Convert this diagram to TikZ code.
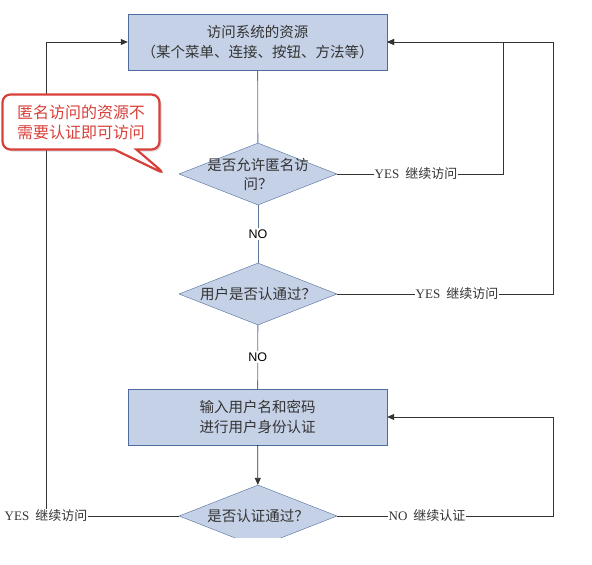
\documentclass[tikz,border=0pt]{standalone}
\usepackage{fontspec}
\setmainfont{Liberation Serif}
\newfontfamily\cjk{Noto Sans CJK SC}
\newfontfamily\latinsans{Liberation Sans}
\usetikzlibrary{shapes.geometric,shapes.callouts,shadows,arrows.meta}
\definecolor{boxfill}{HTML}{C5D1E6}
\definecolor{boxline}{HTML}{4E6D9C}
\definecolor{flowline}{HTML}{5F7596}
\definecolor{notered}{HTML}{D8403A}
\definecolor{ink}{HTML}{333333}
% branch text: latin word + chinese words
\newcommand{\goon}[2]{#1\hspace{6pt}{\cjk #2}}

\begin{document}
\begin{tikzpicture}[
  x=1pt, y=-1pt,
  >={Triangle[length=7pt,width=6pt]},
  process/.style={rectangle, draw=boxline, fill=boxfill, minimum width=259pt, minimum height=56pt, inner sep=0pt, align=center, text=ink, font=\cjk\fontsize{14.5}{20}\selectfont},
  decision/.style={diamond, draw=boxline, fill=boxfill, minimum width=158pt, minimum height=62pt, inner sep=0pt},
  ask/.style={align=center, text=ink, font=\cjk\fontsize{14.5}{19}\selectfont},
  branch/.style={fill=white, inner sep=1pt, text=ink, font=\fontsize{13}{15}\selectfont},
  nolabel/.style={fill=white, inner sep=2pt, text=black, font=\latinsans\fontsize{12.5}{15}\selectfont},
  line/.style={draw=black!80, line width=0.8pt},
  link/.style={draw=flowline, line width=0.8pt}
]
\useasboundingbox (0,0) rectangle (592,565);

% boxes and decisions
\node[process] (res) at (257.5,42) {访问系统的资源\\（某个菜单、连接、按钮、方法等）};
\node[decision] (anon) at (258,174) {};
\node[ask] (anonq) at (258,174) {是否允许匿名访\\问？};
\node[decision] (login) at (258,294) {};
\node[ask] (loginq) at (258,294) {用户是否认通过？};
\node[process] (auth) at (257.5,417) {输入用户名和密码\\进行用户身份认证};
\begin{scope}
  \clip (0,0) rectangle (592,537);
  \node[decision] (check) at (258,516) {};
  \node[ask] (checkq) at (258,516) {是否认证通过？};
\end{scope}

% main flow
\draw[link] (res) -- (anon);
\draw[link] (anon) -- node[nolabel] (no1) {NO} (login);
\draw[link] (login) -- node[nolabel] (no2) {NO} (auth);
\draw[line,->] (auth) -- (check);

% back to the resource
\coordinate (r1) at (503,174);
\coordinate (r2) at (553,294);
\coordinate (r3) at (553,516);
\draw[line,->] (anon.east) -- (r1) |- (res.east);
\draw[line,->] (login.east) -- (r2) |- (res.east);
\node[branch] (yes1) at (416,174) {\goon{YES}{继续访问}};
\node[branch] (yes2) at (457,294) {\goon{YES}{继续访问}};

\node[branch] (yes3) at (46,516) {\goon{YES}{继续访问}};
\draw[line] (check.west) -- (yes3.east);
\draw[line,->] (yes3.north) |- (res.west);

\draw[line,->] (check.east) -- (r3) |- (auth.east);
\node[branch] (noauth) at (427,516) {\goon{NO}{继续认证}};

% note
\node[rectangle callout, draw=notered, line width=2.2pt, fill=white, rounded corners=8pt,
  minimum width=157pt, minimum height=55pt, inner sep=2pt,
  callout absolute pointer={(165,174)}, callout pointer width=22pt,
  drop shadow={opacity=0.3, shadow xshift=2pt, shadow yshift=-2pt},
  align=center, text=notered, font=\cjk\fontsize{16}{20}\selectfont] (note) at (81,122)
  {匿名访问的资源不\\需要认证即可访问};
\end{tikzpicture}
\end{document}
